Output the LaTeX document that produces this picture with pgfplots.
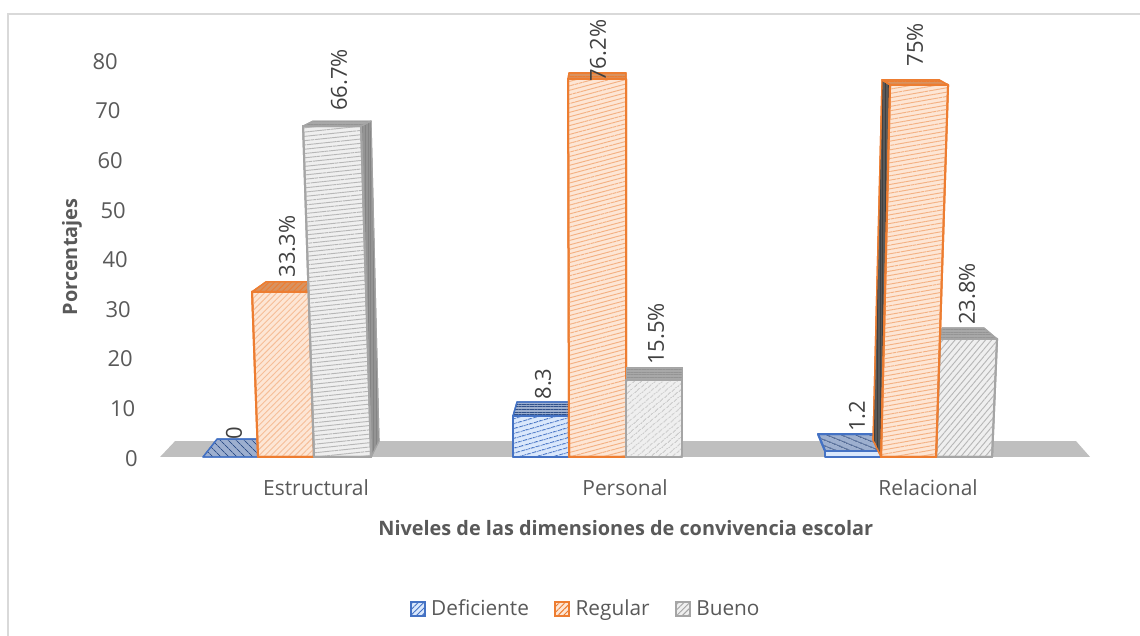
\documentclass[border=0pt]{standalone}
\usepackage{fontspec}
\setmainfont{Open Sans}
\usepackage{pgfplots}
\pgfplotsset{compat=1.18}
\usetikzlibrary{patterns.meta}

\definecolor{txt}{HTML}{595959}
\definecolor{lab}{HTML}{404040}
\definecolor{frameg}{HTML}{D9D9D9}
\definecolor{floorg}{HTML}{BFBFBF}
\definecolor{blu}{HTML}{4472C4}
\definecolor{blul}{HTML}{DAE8FC}
\definecolor{blud}{HTML}{9DAFCF}
\definecolor{ora}{HTML}{ED7D31}
\definecolor{oral}{HTML}{FDE6D5}
\definecolor{orad}{HTML}{D9925F}
\definecolor{gra}{HTML}{A5A5A5}
\definecolor{gral}{HTML}{EFEFEF}
\definecolor{grad}{HTML}{A8A8A8}

\tikzset{
  hatch/.style n args={3}{postaction={pattern={Lines[angle=#1,distance=#2,line width=0.7pt]},pattern color=#3}},
  dlab/.style={rotate=90,anchor=west,inner sep=0pt,text=lab,font=\fontsize{16.5pt}{19pt}\selectfont},
}

% one face of a bar: style, corners in (pixel x, percent)
\newcommand{\face}[2]{\addplot[forget plot,line join=round,#1] coordinates {#2} --cycle;}
% value label: x, value, text, gap above the value in px
\newcommand{\dlabel}[4]{\node[yshift=#4*0.75pt,dlab] at (axis cs:#1,#2) {#3};}

\begin{document}
\begin{tikzpicture}
\useasboundingbox (0,0) rectangle (855pt,477pt);
\draw[frameg,line width=1.5pt] (6pt,0pt) -- (6pt,466.5pt) -- (855pt,466.5pt);
\begin{axis}[
    at={(118.9pt,134.25pt)}, anchor=south west,
    scale only axis, width=700.9pt, height=297.75pt,
    xmin=158.5, xmax=1093, ymin=0, ymax=80,
    clip=false,
    axis line style={draw=none},
    major tick style={draw=none},
    xtick={316,625,928},
    xticklabels={Estructural,Personal,Relacional},
    ytick={0,10,...,80},
    yticklabels={0,10\kern1.9pt,20\kern3.75pt,30\kern5.25pt,40\kern7.5pt,50\kern9pt,60\kern11.25pt,70\kern13pt,80\kern15pt},
    ytick pos=left, xtick pos=bottom,
    tick label style={text=txt,font=\fontsize{16.5pt}{19pt}\selectfont},
    xticklabel style={font=\fontsize{15.7pt}{18pt}\selectfont,yshift=-13.5pt},
    yticklabel style={xshift=-12pt,yshift=-1pt},
    xlabel={\textbf{Niveles de las dimensiones de convivencia escolar}},
    ylabel={\textbf{Porcentajes}},
    label style={text=txt,font=\fontsize{14.9pt}{17pt}\selectfont},
    xlabel style={at={(axis cs:625.75,-14.3)},anchor=center},
    ylabel style={at={(axis cs:72,40.3)},anchor=center},
    legend style={at={(axis cs:586,-30.6)},anchor=center,draw=none,fill=none,
      legend columns=3,font=\fontsize{15.6pt}{18pt}\selectfont,text=txt,
      /tikz/every even column/.style={column sep=17pt},
      /tikz/every odd column/.style={column sep=2pt}},
    legend image code/.code={\draw[#1] (0pt,-5.2pt) rectangle (10.5pt,5.2pt);},
]
% floor
\face{fill=floorg,draw=none}{(160,0)(175,3.2)(1076,3.2)(1090,0)}

% Estructural
\face{draw=blu,line width=1pt,fill=blud,hatch={-45}{4pt}{blu!70!black}}{(203,0)(217,3.6)(258,3.6)(258,0)}
\face{draw=ora,line width=1pt,fill=orad,hatch={45}{3pt}{ora}}{(252,33.3)(266,35.3)(310,35.3)(309,33.3)}
\face{draw=ora,line width=1.5pt,fill=oral,hatch={45}{3.2pt}{ora!50}}{(258,0)(252,33.3)(309,33.3)(314,0)}
\face{draw=gra,line width=0.8pt,fill=gra!90!black,hatch={90}{2pt}{gra!80!black}}{(361,66.7)(371,67.7)(379,3.2)(371,0)}
\face{draw=gra,line width=0.8pt,fill=grad,hatch={0}{2pt}{gra!90!black}}{(303,66.7)(313,67.7)(371,67.7)(361,66.7)}
\face{draw=gra,line width=1.5pt,fill=gral,hatch={6}{3.2pt}{gra!80}}{(314,0)(303,66.7)(361,66.7)(371,0)}

% Personal
\face{draw=blu,line width=1pt,fill=blud,hatch={0}{2pt}{blu!70!black}}{(513,8.3)(517,11.1)(570,11.1)(570,8.3)}
\face{draw=blu,line width=1.5pt,fill=blul,hatch={16}{4pt}{blu}}{(513,0)(513,8.3)(570,8.3)(570,0)}
\face{draw=ora,line width=1pt,fill=orad,hatch={0}{2pt}{ora}}{(568,76.2)(569,77.4)(626,77.4)(626,76.2)}
\face{draw=ora,line width=1.5pt,fill=oral,hatch={15}{3.2pt}{ora!60}}{(569,0)(568,76.2)(626,76.2)(626,0)}
\face{draw=gra,line width=0.8pt,fill=grad,hatch={0}{2pt}{gra!90!black}}{(626,15.5)(626,18.1)(682,18.1)(682,15.5)}
\face{draw=gra,line width=1.5pt,fill=gral,hatch={40}{4pt}{gra!80}}{(626,0)(626,15.5)(682,15.5)(682,0)}

% Relacional
\face{draw=blu,line width=1.5pt,fill=blud,hatch={-22}{4pt}{blu!60!black}}{(825,1.2)(818,4.6)(873,4.6)(881,1.2)}
\face{draw=blu,line width=1.5pt,fill=blul}{(825,0)(825,1.2)(881,1.2)(881,0)}
\face{draw=gra,line width=0.8pt,fill=grad,hatch={0}{2pt}{gra!90!black}}{(940,23.8)(942,26)(984,26)(997,23.8)}
\face{draw=gra,line width=1.5pt,fill=gral,hatch={50}{3.5pt}{gra!80}}{(936,0)(940,23.8)(997,23.8)(992,0)}
\face{draw=ora,line width=1pt,fill=black!65,hatch={90}{2pt}{black!75}}{(881,0)(873,3.4)(882,76)(890,75)}
\face{draw=ora,line width=1pt,fill=orad,hatch={0}{2pt}{ora}}{(882,76)(939,76)(948,75)(890,75)}
\face{draw=ora,line width=1.5pt,fill=oral,hatch={10}{3.2pt}{ora!60}}{(881,0)(890,75)(948,75)(936,0)}

% legend
\addlegendimage{draw=blu,line width=1.5pt,fill=blul,hatch={45}{3pt}{blu}}
\addlegendentry{Deficiente}
\addlegendimage{draw=ora,line width=1.5pt,fill=oral,hatch={45}{3pt}{ora}}
\addlegendentry{Regular}
\addlegendimage{draw=gra,line width=1.5pt,fill=gral,hatch={45}{3pt}{gra}}
\addlegendentry{Bueno}

% value labels
\dlabel{234}{0}{0}{17}
\dlabel{287}{33.3}{33.3\%}{14}
\dlabel{339}{66.7}{66.7\%}{15}
\dlabel{543}{8.3}{8.3}{16}
\dlabel{598}{76.2}{76.2\%}{-3}
\dlabel{656}{15.5}{15.5\%}{15}
\dlabel{857}{1.2}{1.2}{19}
\dlabel{915}{75}{75\%}{18}
\dlabel{967}{23.8}{23.8\%}{14}
\end{axis}
\end{tikzpicture}
\end{document}
